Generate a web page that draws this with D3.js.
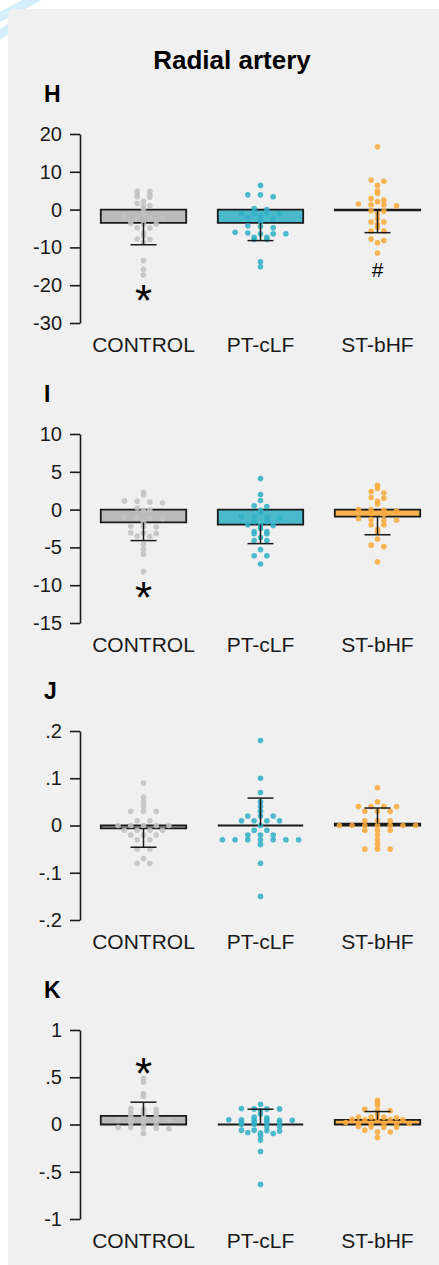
<!DOCTYPE html>
<html>
<head>
<meta charset="utf-8">
<script src="https://cdn.jsdelivr.net/npm/d3@7"></script>
<style>
  html, body { margin: 0; padding: 0; background: #fff; }
  svg { display: block; font-family: "Liberation Sans", Arial, sans-serif; }
</style>
</head>
<body>
<div id="chart"></div>
<script>
// Groups shown on every panel
const categories = ["CONTROL", "PT-cLF", "ST-bHF"];
const panelLetters = ["H", "I", "J", "K"];

// Panel H
const hControl = [4.9, 4.8, 4.1, 4.0, 3.4, 3.3, 2.2, 1.6, 1.1, 1.0, 0.2, -1.2, -2.0, -2.0, -2.1, -2.1, -3.7, -3.8, -3.8, -4.8, -4.9, -6.2, -6.9, -7.8, -7.9, -8.7, -13.5, -15.8, -17.3];
const hPtclf = [6.4, 3.9, 3.9, 3.4, 0.3, 0.0, -1.0, -1.0, -1.05, -1.1, -1.55, -2.2, -2.2, -2.5, -3.3, -4.3, -4.5, -4.8, -6.0, -6.2, -6.4, -6.4, -6.4, -7.3, -7.3, -7.9, -7.9, -13.8, -15.1];
const hStbhf = [16.6, 7.8, 7.5, 6.4, 4.9, 4.3, 2.9, 2.5, 2.1, 1.5, 1.3, 1.2, 1.0, -0.3, -0.4, -1.1, -2.4, -3.3, -3.3, -3.9, -4.7, -5.7, -5.7, -7.8, -8.2, -8.8, -11.5];
const hMeans = [-3.5, -3.5, -0.2];
const hErrors = [5.8, 4.7, 5.9];
const hTicks = [20, 10, 0, -10, -20, -30];
const hTickLabels = ["20", "10", "0", "-10", "-20", "-30"];
const hMarks = [{ group: "CONTROL", label: "*", value: -21.4 }, { group: "ST-bHF", label: "#", value: -15.9 }];

// Panel I
const iControl = [2.3, 1.95, 1.15, 1.1, 1.0, 0.9, 0.2, -0.05, -0.1, -1.05, -1.1, -1.1, -1.2, -1.7, -2.2, -2.25, -2.3, -3.05, -3.1, -3.15, -3.5, -3.55, -4.6, -5.3, -5.9, -8.2];
const iPtclf = [4.1, 2.0, 1.2, 0.5, 0.4, -0.1, -0.4, -0.9, -0.95, -1.05, -1.1, -1.6, -1.6, -2.0, -2.1, -2.1, -2.5, -2.9, -2.9, -3.2, -3.2, -3.7, -4.1, -4.1, -5.3, -6.1, -6.1, -7.2];
const iStbhf = [3.2, 2.8, 2.4, 2.2, 1.6, 1.5, 1.1, 0.75, 0.0, 0.0, -0.1, -0.2, -0.5, -0.6, -1.2, -1.3, -1.4, -1.4, -2.0, -2.0, -2.6, -3.0, -3.9, -4.7, -4.9, -6.9];
const iMeans = [-1.7, -2.0, -0.93];
const iErrors = [2.4, 2.5, 2.4];
const iTicks = [10, 5, 0, -5, -10, -15];
const iTickLabels = ["10", "5", "0", "-5", "-10", "-15"];
const iMarks = [{ group: "CONTROL", label: "*", value: -10.3 }];

// Panel J
const jControl = [0.09, 0.06, 0.05, 0.04, 0.03, 0.03, 0.03, 0.01, 0.01, 0, 0, 0, 0, 0, -0.01, -0.01, -0.01, -0.01, -0.02, -0.02, -0.02, -0.03, -0.03, -0.05, -0.05, -0.07, -0.08, -0.08];
const jPtclf = [0.18, 0.10, 0.07, 0.05, 0.04, 0.03, 0.02, 0.02, 0.02, 0.01, 0.01, 0.01, 0.01, 0, -0.01, -0.01, -0.02, -0.02, -0.02, -0.03, -0.03, -0.03, -0.03, -0.03, -0.03, -0.03, -0.04, -0.08, -0.15];
const jStbhf = [0.08, 0.05, 0.04, 0.04, 0.04, 0.04, 0.03, 0.03, 0.03, 0.01, 0.01, 0.01, 0, 0, 0, 0, 0, 0, 0, -0.01, -0.01, -0.01, -0.02, -0.03, -0.04, -0.05, -0.05, -0.05];
const jMeans = [-0.006, 0.0, 0.004];
const jErrors = [0.040, 0.058, 0.033];
const jTicks = [0.2, 0.1, 0, -0.1, -0.2];
const jTickLabels = [".2", ".1", "0", "-.1", "-.2"];
const jMarks = [];

// Panel K
const kControl = [0.49, 0.45, 0.325, 0.30, 0.17, 0.16, 0.16, 0.125, 0.12, 0.12, 0.085, 0.08, 0.08, 0.05, 0.05, 0.05, 0.045, 0.045, 0.015, 0.005, -0.005, -0.03, -0.03, -0.035, -0.04, -0.045, -0.095];
const kPtclf = [0.215, 0.17, 0.165, 0.165, 0.165, 0.145, 0.11, 0.08, 0.07, 0.05, 0.05, 0.048, 0.046, 0.045, 0.045, 0.025, 0.025, 0.02, 0.02, 0.0, 0.0, -0.02, -0.02, -0.06, -0.06, -0.065, -0.07, -0.085, -0.09, -0.095, -0.12, -0.165, -0.285, -0.634];
const kStbhf = [0.257, 0.23, 0.2, 0.16, 0.145, 0.145, 0.105, 0.08, 0.075, 0.075, 0.072, 0.055, 0.053, 0.053, 0.053, 0.05, 0.02, 0.015, 0.01, 0.01, 0.01, 0.01, -0.02, -0.025, -0.03, -0.03, -0.06, -0.08, -0.08, -0.137];
const kMeans = [0.092, 0.0, 0.05];
const kErrors = [0.144, 0.162, 0.087];
const kTicks = [1, 0.5, 0, -0.5, -1];
const kTickLabels = ["1", ".5", "0", "-.5", "-1"];
const kMarks = [{ group: "CONTROL", label: "*", value: 0.64 }];

const panels = [
    { groups: [hControl, hPtclf, hStbhf], means: hMeans, errors: hErrors, ticks: hTicks, tickLabels: hTickLabels, marks: hMarks },
    { groups: [iControl, iPtclf, iStbhf], means: iMeans, errors: iErrors, ticks: iTicks, tickLabels: iTickLabels, marks: iMarks },
    { groups: [jControl, jPtclf, jStbhf], means: jMeans, errors: jErrors, ticks: jTicks, tickLabels: jTickLabels, marks: jMarks },
    { groups: [kControl, kPtclf, kStbhf], means: kMeans, errors: kErrors, ticks: kTicks, tickLabels: kTickLabels, marks: kMarks }
];

const barFill = ["#bababa", "#4bb9cc", "#fdb24f"];
const dotFill = ["#c2c2c2", "#33b1c7", "#fbaa3c"];
const ink = "#1a1a1a";

const width = 439, height = 1265;
const panelTops = [134, 434, 731, 1030];
const plotHeight = 189;
const axisX = 80;

const svg = d3.select("#chart").append("svg")
    .attr("width", width)
    .attr("height", height);

// Light blue stripes peeking out behind the card
svg.append("g")
    .attr("stroke", "#d3effb")
    .attr("stroke-width", 9)
    .selectAll("line")
    .data([[40, -4, -6, 20], [26, 18, -6, 38]])
    .join("line")
    .attr("x1", d => d[0]).attr("y1", d => d[1])
    .attr("x2", d => d[2]).attr("y2", d => d[3]);

// Gray card
svg.append("rect")
    .attr("x", 8).attr("y", 9)
    .attr("width", width + 20).attr("height", height + 20)
    .attr("rx", 7)
    .attr("fill", "#f0f0f0");

svg.append("text")
    .attr("x", 232).attr("y", 69)
    .attr("text-anchor", "middle")
    .style("font-size", "26px")
    .style("font-weight", "bold")
    .attr("fill", "#000")
    .text("Radial artery");

const x = d3.scaleBand()
    .domain(categories)
    .range([85, 436])
    .paddingInner(0.27)
    .paddingOuter(0.135);

// Dots binned into rows, spread symmetric around the group centre
function swarm(values, y, cx, spacing, binPx) {
    const sorted = values.slice().sort((a, b) => b - a);
    const bins = [];
    let cur = null;
    sorted.forEach(v => {
        const py = y(v);
        if (cur && py - cur.anchor <= binPx) cur.items.push(py);
        else { cur = { anchor: py, items: [py] }; bins.push(cur); }
    });
    const pts = [];
    bins.forEach(b => {
        const n = b.items.length;
        b.items.forEach((py, i) => pts.push({ x: cx + (i - (n - 1) / 2) * spacing, y: py }));
    });
    return pts;
}

panels.forEach((p, k) => {
    const top = panelTops[k];
    const y = d3.scaleLinear()
        .domain([p.ticks[p.ticks.length - 1], p.ticks[0]])
        .range([top + plotHeight, top]);

    const g = svg.append("g");

    g.append("text")
        .attr("x", 44).attr("y", top - 32)
        .style("font-size", "23px")
        .style("font-weight", "bold")
        .attr("fill", "#000")
        .text(panelLetters[k]);

    const axis = g.append("g")
        .attr("transform", `translate(${axisX},0)`)
        .call(d3.axisLeft(y)
            .tickValues(p.ticks)
            .tickFormat((d, i) => p.tickLabels[i])
            .tickSize(10)
            .tickSizeOuter(0)
            .tickPadding(8));
    axis.select(".domain").attr("stroke", ink).attr("stroke-width", 1.6);
    axis.selectAll(".tick line").attr("stroke", ink).attr("stroke-width", 1.6);
    axis.selectAll(".tick text")
        .attr("fill", ink)
        .style("font-size", "20px")
        .style("font-family", "'Liberation Sans', Arial, sans-serif");

    categories.forEach((c, i) => {
        const x0 = x(c), x1 = x(c) + x.bandwidth(), cx = x(c) + x.bandwidth() / 2;
        const m = p.means[i];
        const y0 = y(0), ym = y(m);

        // Bar (path so zero-height bars still show as a line)
        g.append("path")
            .attr("d", `M${x0},${y0}H${x1}V${ym}H${x0}Z`)
            .attr("fill", barFill[i])
            .attr("stroke", ink)
            .attr("stroke-width", 1.8);

        g.append("g")
            .selectAll("circle")
            .data(swarm(p.groups[i], y, cx, 12.7, 2.05))
            .join("circle")
            .attr("cx", d => d.x)
            .attr("cy", d => d.y)
            .attr("r", 2.8)
            .attr("fill", dotFill[i])
            .attr("fill-opacity", 0.88);

        // Error bar points away from zero
        const ye = y(m >= 0 ? m + p.errors[i] : m - p.errors[i]);
        g.append("line")
            .attr("x1", cx).attr("x2", cx)
            .attr("y1", ym).attr("y2", ye)
            .attr("stroke", ink).attr("stroke-width", 1.5);
        g.append("line")
            .attr("x1", cx - 13).attr("x2", cx + 13)
            .attr("y1", ye).attr("y2", ye)
            .attr("stroke", ink).attr("stroke-width", 1.5);

        g.append("text")
            .attr("x", cx)
            .attr("y", top + plotHeight + 29)
            .attr("text-anchor", "middle")
            .style("font-size", "21px")
            .attr("fill", ink)
            .text(c);
    });

    p.marks.forEach(mk => {
        const cx = x(mk.group) + x.bandwidth() / 2;
        const size = mk.label === "*" ? 44 : 21;
        const lift = mk.label === "*" ? 0.575 : 0.35;
        g.append("text")
            .attr("x", cx)
            .attr("y", y(mk.value) + size * lift)
            .attr("text-anchor", "middle")
            .style("font-size", size + "px")
            .attr("fill", "#000")
            .text(mk.label);
    });
});
</script>
</body>
</html>
